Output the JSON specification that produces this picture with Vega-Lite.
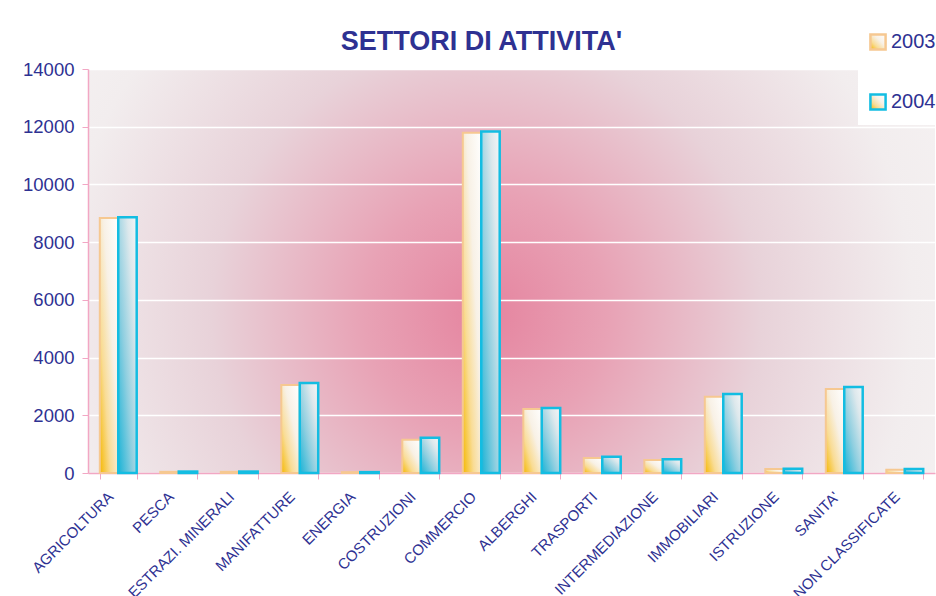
{
  "$schema": "https://vega.github.io/schema/vega-lite/v6.json",
  "autosize": "none",
  "width": 847,
  "height": 404,
  "padding": {"left": 88, "top": 69, "right": 1, "bottom": 123},
  "background": "white",
  "title": {
    "text": "SETTORI DI ATTIVITA'",
    "fontSize": 27,
    "fontWeight": "bold",
    "color": "#2e3192",
    "anchor": "middle",
    "frame": "group",
    "dx": -30,
    "offset": -55,
    "baseline": "alphabetic"
  },
  "config": {
    "font": "Liberation Sans",
    "view": {
      "stroke": null,
      "fill": {
        "gradient": "radial",
        "x1": 0.47, "y1": 0.55, "r1": 0,
        "x2": 0.47, "y2": 0.55, "r2": 0.72,
        "stops": [
          {"offset": 0, "color": "#e5849f"},
          {"offset": 0.2, "color": "#e8a2b5"},
          {"offset": 0.45, "color": "#e8d2d9"},
          {"offset": 0.7, "color": "#f2edee"},
          {"offset": 0.95, "color": "#f7f5f5"},
          {"offset": 1, "color": "#ffffff"}
        ]
      }
    }
  },
  "data": {
    "values": [
      {"settore": "AGRICOLTURA", "anno": "2003", "valore": 8840},
      {"settore": "AGRICOLTURA", "anno": "2004", "valore": 8860},
      {"settore": "PESCA", "anno": "2003", "valore": 40},
      {"settore": "PESCA", "anno": "2004", "valore": 50},
      {"settore": "ESTRAZI. MINERALI", "anno": "2003", "valore": 40},
      {"settore": "ESTRAZI. MINERALI", "anno": "2004", "valore": 50},
      {"settore": "MANIFATTURE", "anno": "2003", "valore": 3050},
      {"settore": "MANIFATTURE", "anno": "2004", "valore": 3120},
      {"settore": "ENERGIA", "anno": "2003", "valore": 30},
      {"settore": "ENERGIA", "anno": "2004", "valore": 30},
      {"settore": "COSTRUZIONI", "anno": "2003", "valore": 1150},
      {"settore": "COSTRUZIONI", "anno": "2004", "valore": 1220},
      {"settore": "COMMERCIO", "anno": "2003", "valore": 11790},
      {"settore": "COMMERCIO", "anno": "2004", "valore": 11830},
      {"settore": "ALBERGHI", "anno": "2003", "valore": 2220},
      {"settore": "ALBERGHI", "anno": "2004", "valore": 2250},
      {"settore": "TRASPORTI", "anno": "2003", "valore": 520},
      {"settore": "TRASPORTI", "anno": "2004", "valore": 560},
      {"settore": "INTERMEDIAZIONE", "anno": "2003", "valore": 450},
      {"settore": "INTERMEDIAZIONE", "anno": "2004", "valore": 480},
      {"settore": "IMMOBILIARI", "anno": "2003", "valore": 2640},
      {"settore": "IMMOBILIARI", "anno": "2004", "valore": 2740},
      {"settore": "ISTRUZIONE", "anno": "2003", "valore": 140},
      {"settore": "ISTRUZIONE", "anno": "2004", "valore": 150},
      {"settore": "SANITA'", "anno": "2003", "valore": 2910},
      {"settore": "SANITA'", "anno": "2004", "valore": 2980},
      {"settore": "NON CLASSIFICATE", "anno": "2003", "valore": 110},
      {"settore": "NON CLASSIFICATE", "anno": "2004", "valore": 140}
    ]
  },
  "encoding": {
    "x": {
      "field": "settore",
      "type": "nominal",
      "sort": null,
      "scale": {"paddingInner": 0.39, "paddingOuter": 0.195},
      "axis": {
        "title": null,
        "labelAngle": -45,
        "labelFontSize": 15,
        "labelColor": "#2e3192",
        "labelOffset": -13,
        "domainColor": "#f2a7c4",
        "domainWidth": 1.5,
        "tickColor": "#f2a7c4",
        "tickBand": "extent",
        "tickSize": 6,
        "labelPadding": 10
      }
    },
    "xOffset": {"field": "anno", "type": "nominal", "scale": {"domain": ["2003", "2004"]}},
    "y": {
      "field": "valore",
      "type": "quantitative",
      "scale": {"domain": [0, 14000], "nice": false},
      "axis": {
        "title": null,
        "values": [0, 2000, 4000, 6000, 8000, 10000, 12000, 14000],
        "format": "d",
        "labelFontSize": 18.5,
        "labelColor": "#2e3192",
        "labelPadding": 8,
        "domainColor": "#f2a7c4",
        "domainWidth": 1.5,
        "tickColor": "#f2a7c4",
        "tickSize": 6,
        "grid": true,
        "gridColor": "#ffffff",
        "gridWidth": 1.5
      }
    },
    "stroke": {
      "field": "anno",
      "type": "nominal",
      "scale": {"domain": ["2003", "2004"], "range": ["#f6c891", "#13bde2"]},
      "legend": {
        "title": null,
        "orient": "none",
        "legendX": 770,
        "legendY": -47,
        "padding": 10,
        "fillColor": "white",
        "labelFontSize": 20,
        "labelColor": "#2e3192",
        "labelOffset": 3,
        "symbolType": "square",
        "symbolSize": 230,
        "symbolStrokeWidth": 2.5,
        "rowPadding": 34,
        "encode": {
          "symbols": {
            "update": {
              "fill": {"signal": "datum.value == '2003' ? '#fbe2b8' : '#bfdfe9'"}
            }
          }
        }
      }
    }
  },
  "layer": [
    {
      "transform": [{"filter": "datum.anno == '2003'"}],
      "mark": {
        "type": "bar",
        "strokeWidth": 2,
        "fill": {
          "gradient": "linear",
          "x1": 0, "y1": 1, "x2": 1, "y2": 0,
          "stops": [
            {"offset": 0, "color": "#f5b800"},
            {"offset": 0.3, "color": "#f9dc95"},
            {"offset": 0.6, "color": "#f8f1e6"},
            {"offset": 1, "color": "#ffffff"}
          ]
        }
      }
    },
    {
      "transform": [{"filter": "datum.anno == '2004'"}],
      "mark": {
        "type": "bar",
        "strokeWidth": 2.5,
        "fill": {
          "gradient": "linear",
          "x1": 0, "y1": 1, "x2": 1, "y2": 0,
          "stops": [
            {"offset": 0, "color": "#19b3d6"},
            {"offset": 0.4, "color": "#8fcfe0"},
            {"offset": 0.75, "color": "#dde8ec"},
            {"offset": 1, "color": "#f4f6f7"}
          ]
        }
      }
    }
  ]
}
